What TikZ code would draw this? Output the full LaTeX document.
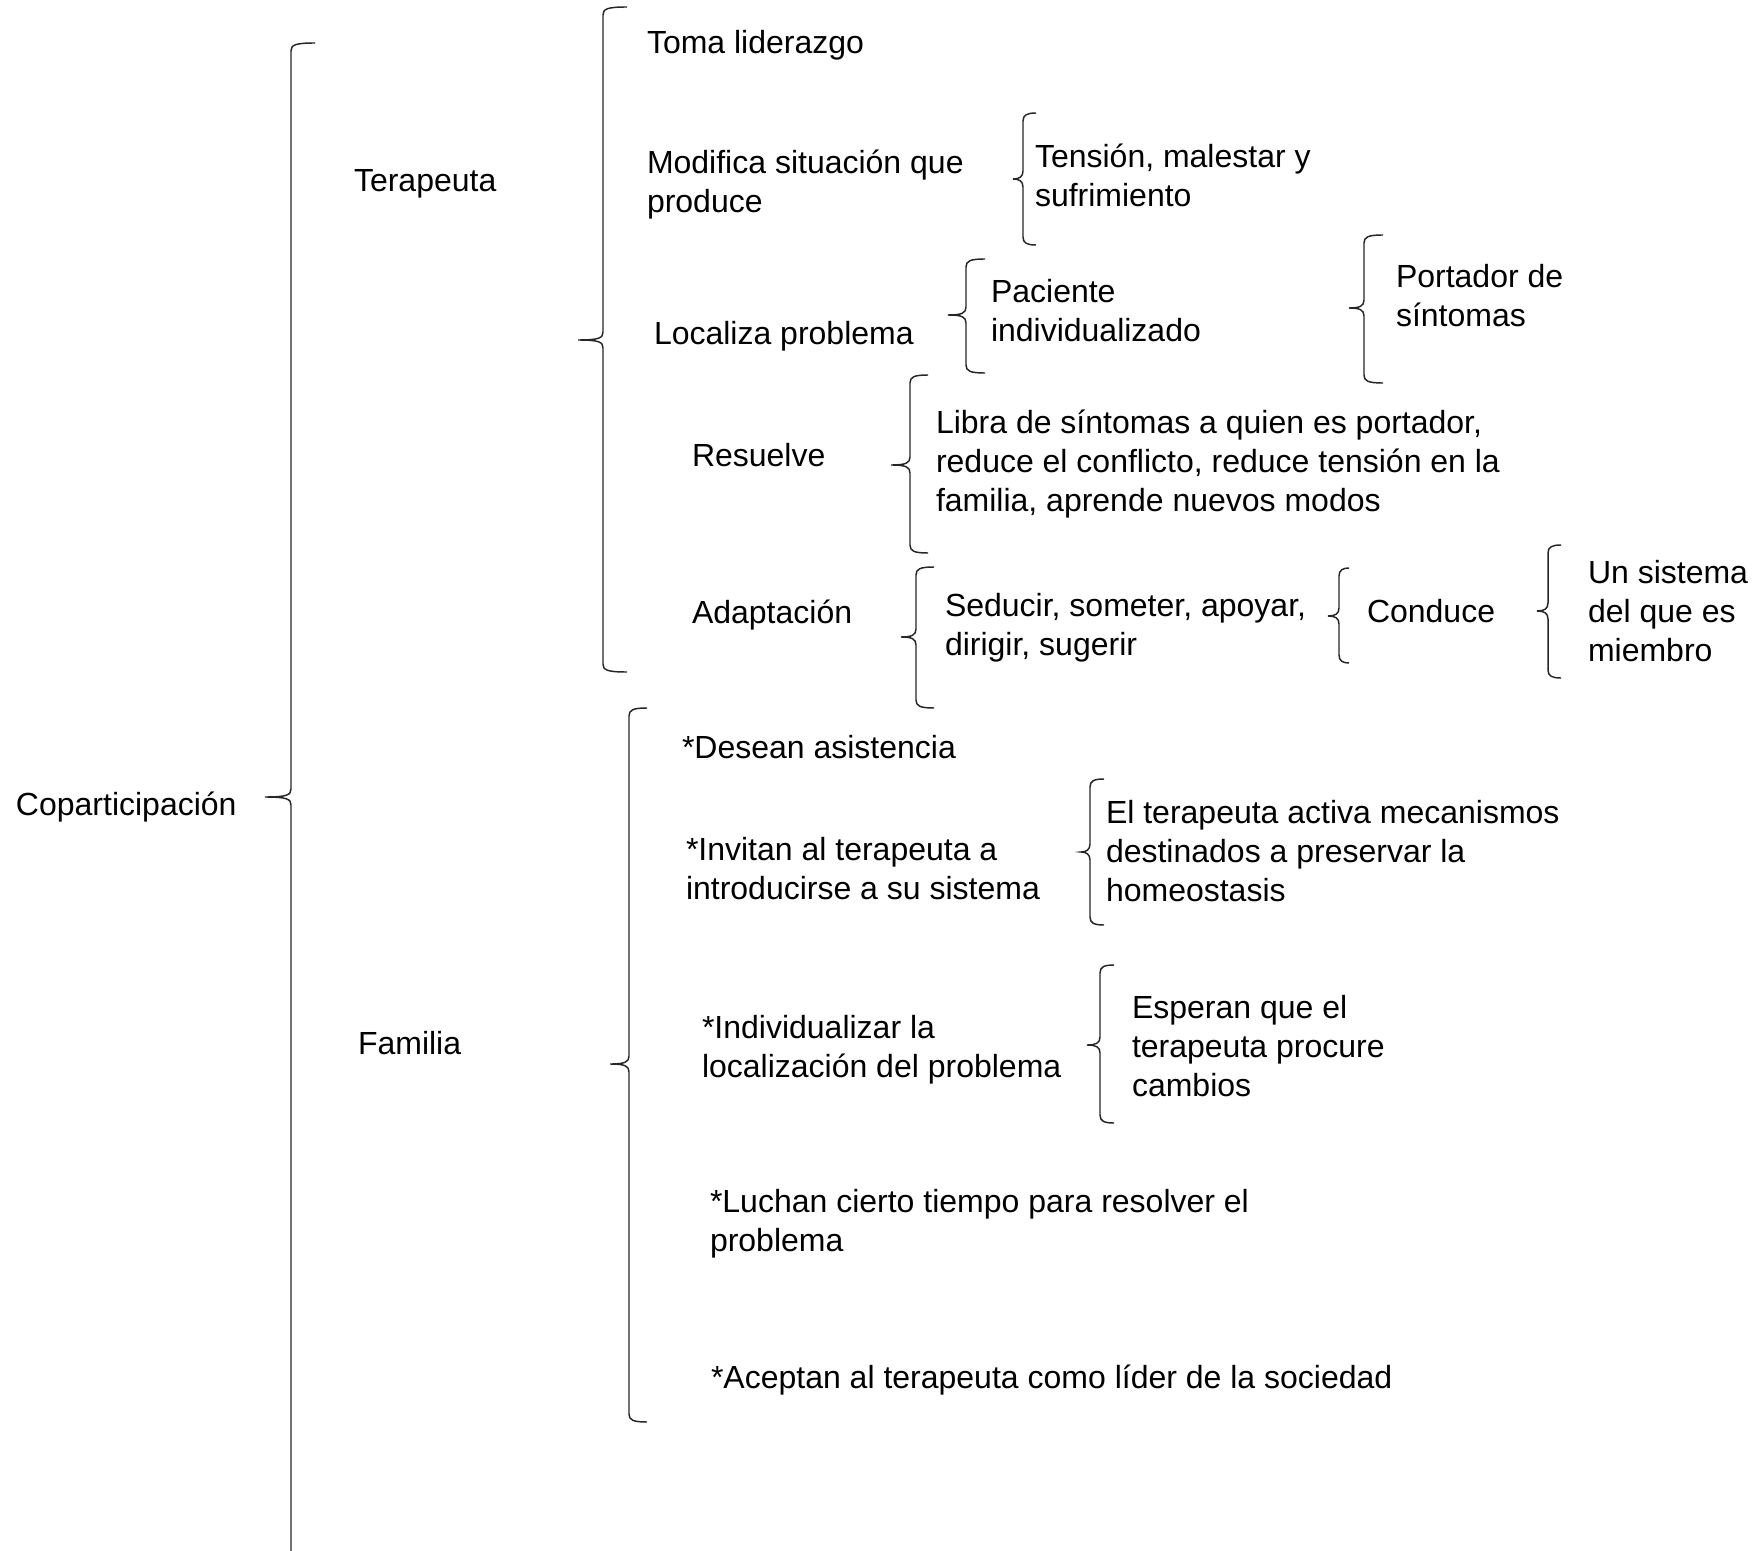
\documentclass[tikz,border=0pt]{standalone}
\usepackage{fontspec}
\setmainfont{Liberation Sans}
\tikzset{
  every node/.style={inner sep=0pt, outer sep=0pt},
  lbl/.style={anchor=north west, align=left, font=\fontsize{24pt}{29.2pt}\selectfont, text=black},
  brc/.style={line width=1.1pt, draw=black!85},
}
% x, top, tip, bottom, tip x, flare x
\newcommand\wbrace[6]{%
  \draw[brc] (#6,#2) .. controls ({#1+4},#2) and (#1,{#2+2}) .. (#1,{#2+8})
    -- (#1,{#3-8}) .. controls (#1,{#3-2}) and ({#1-4},#3) .. (#5,#3)
    .. controls ({#1-4},#3) and (#1,{#3+2}) .. (#1,{#3+8})
    -- (#1,{#4-8}) .. controls (#1,{#4-2}) and ({#1+4},#4) .. (#6,#4);
}
\begin{document}
\begin{tikzpicture}[x=0.75pt,y=-0.75pt]
\useasboundingbox (0,0) rectangle (1753,1551);
\clip (0,0) rectangle (1753,1551);

% braces
\wbrace{291}{43}{797}{1575}{265}{315}
\wbrace{603}{7}{340}{672}{578}{627}
\wbrace{629}{708}{1064}{1422}{610}{647}
\wbrace{1023}{113}{179}{245}{1013}{1036}
\wbrace{966}{259}{315}{373}{948}{985}
\wbrace{1364}{235}{308}{383}{1349}{1383}
\wbrace{910}{375}{465}{553}{891}{928}
\wbrace{916}{567}{637}{708}{901}{934}
\wbrace{1339}{568}{616}{663}{1328}{1349}
\wbrace{1548}{545}{611}{678}{1537}{1561}
\wbrace{1090}{779}{852}{925}{1081}{1104}
\wbrace{1100}{965}{1045}{1123}{1087}{1114}

% texts
\node[lbl] (copart) at (16,792) {Coparticipación};
\node[lbl] (terap) at (354,169) {Terapeuta};
\node[lbl] (famil) at (358,1031) {Familia};
\node[lbl] (toma) at (647,30) {Toma liderazgo};
\node[lbl] (modif) at (647,150) {Modifica situación que\\produce};
\node[lbl] (tension) at (1035,144) {Tensión, malestar y\\sufrimiento};
\node[lbl] (localiza) at (654,321) {Localiza problema};
\node[lbl] (paciente) at (991,279) {Paciente\\individualizado};
\node[lbl] (portador) at (1396,264) {Portador de\\síntomas};
\node[lbl] (resuelve) at (692,443) {Resuelve};
\node[lbl] (libra) at (936,410) {Libra de síntomas a quien es portador,\\reduce el conflicto, reduce tensión en la\\familia, aprende nuevos modos};
\node[lbl] (adapt) at (692,600) {Adaptación};
\node[lbl] (seducir) at (945,593) {Seducir, someter, apoyar,\\dirigir, sugerir};
\node[lbl] (conduce) at (1367,599) {Conduce};
\node[lbl] (sistema) at (1588,560) {Un sistema\\del que es\\miembro};
\node[lbl] (desean) at (682,735) {*Desean asistencia};
\node[lbl] (invitan) at (686,837) {*Invitan al terapeuta a\\introducirse a su sistema};
\node[lbl] (eltera) at (1106,800) {El terapeuta activa mecanismos\\destinados a preservar la\\homeostasis};
\node[lbl] (individ) at (702,1015) {*Individualizar la\\localización del problema};
\node[lbl] (esperan) at (1132,995) {Esperan que el\\terapeuta procure\\cambios};
\node[lbl] (luchan) at (710,1189) {*Luchan cierto tiempo para resolver el\\problema};
\node[lbl] (aceptan) at (711,1365) {*Aceptan al terapeuta como líder de la sociedad};
\end{tikzpicture}
\end{document}
